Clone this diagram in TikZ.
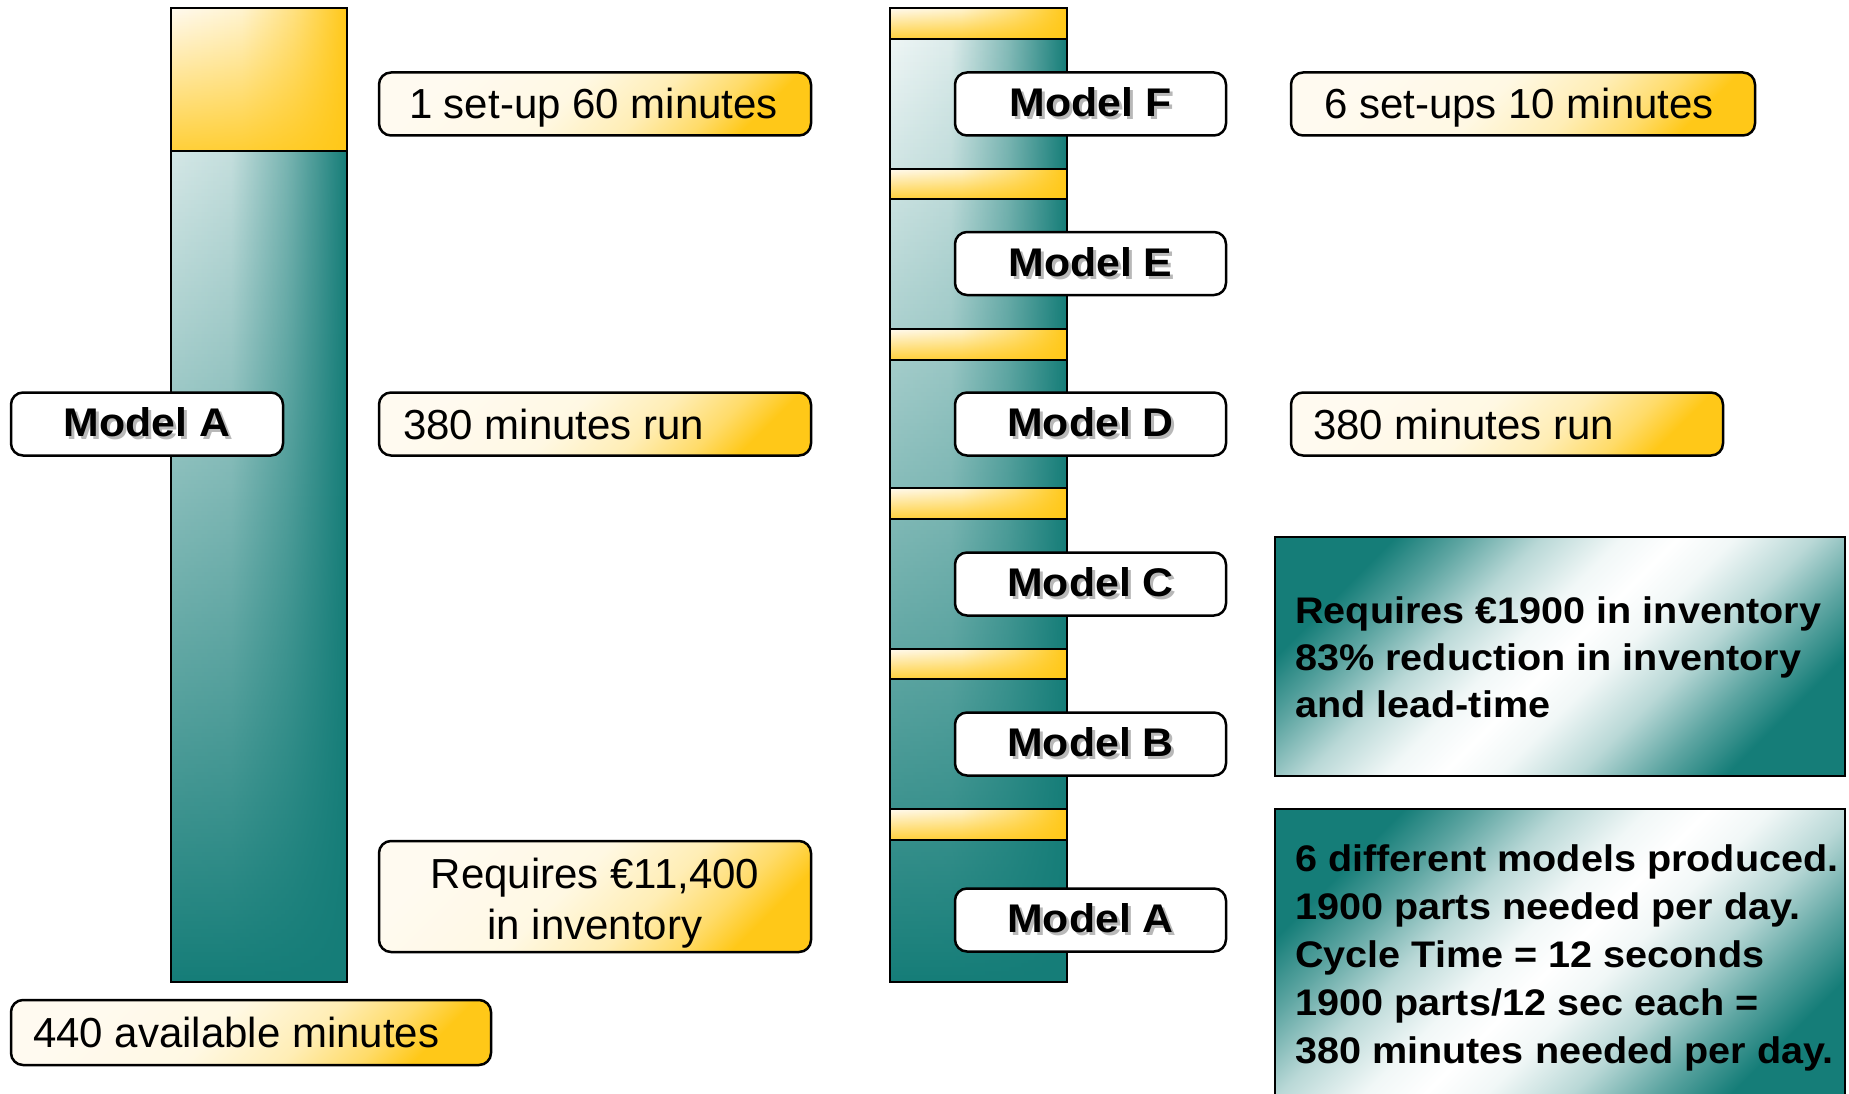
\documentclass[tikz,border=0pt]{standalone}
\usepackage{fontspec}
\setmainfont{Liberation Sans}[BoldFeatures={FakeStretch=1.07}]
\usetikzlibrary{fadings}
\definecolor{tealD}{HTML}{157D78}
\definecolor{gold}{HTML}{FFC818}
\definecolor{cream}{HTML}{FFFAF0}
\pgfdeclarehorizontalshading{barshade}{100bp}{color(0bp)=(tealD!4!white); color(25bp)=(tealD!4!white); color(42bp)=(tealD!12!white); color(58bp)=(tealD!50!white); color(75bp)=(tealD); color(100bp)=(tealD)}
\pgfdeclarehorizontalshading{yelbar}{100bp}{color(0bp)=(cream); color(25bp)=(cream); color(45bp)=(gold!20!white); color(60bp)=(gold!55!white); color(75bp)=(gold); color(100bp)=(gold)}
\pgfdeclarehorizontalshading{ylab}{100bp}{color(0bp)=(cream); color(25bp)=(cream); color(45bp)=(gold!12!white); color(58bp)=(gold!32!white); color(68bp)=(gold!65!white); color(75bp)=(gold); color(100bp)=(gold)}
\pgfdeclarehorizontalshading{tealsh}{100bp}{color(0bp)=(tealD); color(25bp)=(tealD); color(31bp)=(tealD!70!white); color(38bp)=(tealD!30!white); color(45bp)=(tealD!6!white); color(50bp)=(white); color(55bp)=(tealD!6!white); color(62bp)=(tealD!30!white); color(69bp)=(tealD!70!white); color(75bp)=(tealD); color(100bp)=(tealD)}
\tikzfading[name=barfade, top color=transparent!100, middle color=transparent!80, bottom color=transparent!0]
\tikzfading[name=yelfade, top color=transparent!100, bottom color=transparent!15]
\newcommand{\shtext}[1]{\makebox[0pt][l]{\hspace{3pt}\raisebox{-3pt}{\textcolor{black!28}{#1}}}#1}
\newcommand{\ltext}[2]{\makebox[#1pt][l]{#2}}
\tikzset{
  lbl/.style={draw=black, line width=2.5, rounded corners=12, shade, shading=ylab, shading angle=-45,
    font=\fontsize{42}{51}\selectfont, inner ysep=0, minimum height=63},
  lone/.style={text height=34, text depth=4},
  mdl/.style={draw=black, line width=2.5, rounded corners=12, fill=white,
    font=\fontsize{40}{48}\selectfont\bfseries, minimum width=271, minimum height=63, inner sep=0},
  tbox/.style={draw=black, line width=2.5, shade, shading=tealsh, shading angle=-45, inner sep=0},
  ttext/.style={font=\fontsize{37}{47}\selectfont\bfseries, align=left, anchor=west, inner sep=0},
  barline/.style={draw=black, line width=2.5},
}
\begin{document}
\begin{tikzpicture}[x=1pt,y=-1pt]
\useasboundingbox (0,0) rectangle (1849,1094);
\clip (0,0) rectangle (1849,1094);
\fill[white] (0,0) rectangle (1849,1094);

% left bar
\shade[shading=barshade] (171,8) rectangle (347,982);
\fill[tealD, path fading=barfade] (171,8) rectangle (347,982);
\shade[shading=yelbar] (171,8) rectangle (347,151);
\fill[gold, path fading=yelfade] (171,8) rectangle (347,151);
\draw[barline] (171,151) -- (347,151);
\draw[barline] (171,8) rectangle (347,982);

% right bar
\shade[shading=barshade] (890,8) rectangle (1067,982);
\fill[tealD, path fading=barfade] (890,8) rectangle (1067,982);
\foreach \ya/\yb in {8/39, 169/199, 329/360, 488/519, 649/679, 809/840} {
  \shade[shading=yelbar] (890,\ya) rectangle (1067,\yb);
  \fill[gold, path fading=yelfade] (890,\ya) rectangle (1067,\yb);
  \draw[barline] (890,\ya) -- (1067,\ya);
  \draw[barline] (890,\yb) -- (1067,\yb);
}
\draw[barline] (890,8) rectangle (1067,982);

% left labels
\node[lbl, lone, inner xsep=30] (setup1) at (595,104) {\ltext{372}{1 set-up 60 minutes}};
\node[lbl, lone, inner xsep=24] (runA) at (595,424) {\ltext{384}{380 minutes run}};
\node[lbl, minimum width=432, minimum height=111, align=center] (inv11) at (595,896.5) {\rule{0pt}{43pt}Requires €11,400\\in inventory};
\node[lbl, lone, inner xsep=22, minimum height=65] (avail) at (251,1032.5) {\ltext{436}{440 available minutes}};
\node[mdl, minimum width=272] (mA1) at (147,424) {\shtext{Model A}};

% right models
\node[mdl] (mF) at (1090.5,104) {\shtext{Model F}};
\node[mdl] (mE) at (1090.5,263.5) {\shtext{Model E}};
\node[mdl] (mD) at (1090.5,424) {\shtext{Model D}};
\node[mdl] (mC) at (1090.5,584) {\shtext{Model C}};
\node[mdl] (mB) at (1090.5,744) {\shtext{Model B}};
\node[mdl] (mA2) at (1090.5,920) {\shtext{Model A}};

% right labels
\node[lbl, lone, inner xsep=33] (setup6) at (1523,104) {\ltext{398}{6 set-ups 10 minutes}};
\node[lbl, lone, inner xsep=22] (runD) at (1507,424) {\ltext{388}{380 minutes run}};

% teal boxes
\node[tbox, minimum width=570, minimum height=239] (box1) at (1560,656.5) {};
\node[ttext] (box1t) at (1295,657) {Requires €1900 in inventory\\83\% reduction in inventory\\and lead-time};
\node[tbox, minimum width=570, minimum height=300] (box2) at (1560,959) {};
\node[ttext, font=\fontsize{37}{48}\selectfont\bfseries] (box2t) at (1295,958) {6 different models produced.\\1900 parts needed per day.\\Cycle Time = 12 seconds\\1900 parts/12 sec each =\\380 minutes needed per day.};
\end{tikzpicture}
\end{document}
